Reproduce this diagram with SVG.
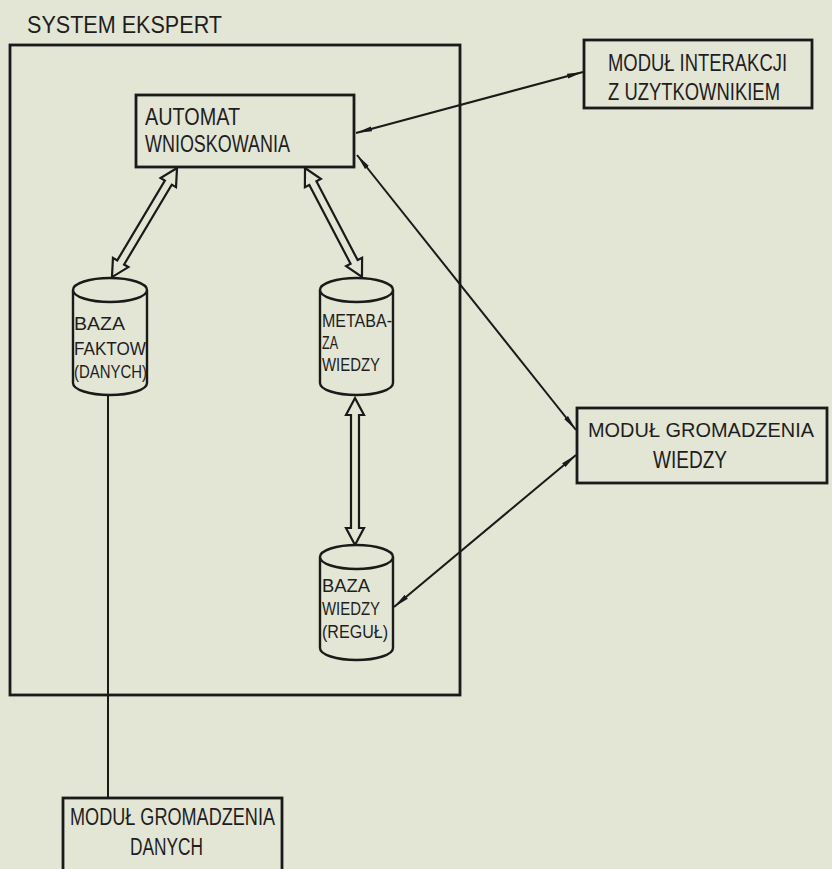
<svg xmlns="http://www.w3.org/2000/svg" width="832" height="869" viewBox="0 0 832 869">
<style>
.t{font-family:"Liberation Sans","DejaVu Sans",sans-serif;font-size:23px;fill:#1e1e1e}
.c{font-family:"Liberation Sans","DejaVu Sans",sans-serif;font-size:19px;fill:#1e1e1e}
.box{fill:none;stroke:#1a1a1a;stroke-width:2.8}
.cyl{fill:#e3e5d5;stroke:#1a1a1a;stroke-width:2.4}
.ln{fill:none;stroke:#1a1a1a;stroke-width:2}
.dbl{fill:#e3e5d5;stroke:#1a1a1a;stroke-width:2.2;stroke-linejoin:miter}
</style>
<defs>
<marker id="ah" markerUnits="userSpaceOnUse" markerWidth="16" markerHeight="8" viewBox="0 0 16 8" refX="16" refY="4" orient="auto-start-reverse">
<path d="M0,1.5 L16,4 L0,6.5 z" fill="#1a1a1a"/>
</marker>
</defs>
<rect x="0" y="0" width="832" height="869" fill="#e3e5d5"/>

<g id="system">
<rect class="box" x="10" y="45" width="450" height="650"/>
<text class="t" x="27" y="33" textLength="195" lengthAdjust="spacingAndGlyphs" style="font-size:24px">SYSTEM EKSPERT</text>
</g>

<g id="connectors">
<line class="ln" x1="108" y1="395" x2="108" y2="798"/>
<line class="ln" x1="356" y1="133" x2="583" y2="72" marker-start="url(#ah)" marker-end="url(#ah)"/>
<line class="ln" x1="357" y1="155" x2="576" y2="430" marker-start="url(#ah)" marker-end="url(#ah)"/>
<line class="ln" x1="576" y1="455" x2="394" y2="607" marker-start="url(#ah)" marker-end="url(#ah)"/>
<polygon class="dbl" transform="translate(177,168) rotate(120.8)" points="0,0 17,-9 17,-4 110,-4 110,-9 127,0 110,9 110,4 17,4 17,9"/>
<polygon class="dbl" transform="translate(305,168) rotate(62.4)" points="0,0 17,-9 17,-4 106,-4 106,-9 123,0 106,9 106,4 17,4 17,9"/>
<polygon class="dbl" transform="translate(355,398) rotate(90)" points="0,0 17,-9 17,-4 130,-4 130,-9 147,0 130,9 130,4 17,4 17,9"/>
</g>

<g id="automat">
<rect class="box" x="136" y="95" width="218" height="72"/>
<text class="t" x="145" y="125" textLength="95" lengthAdjust="spacingAndGlyphs">AUTOMAT</text>
<text class="t" x="145" y="152" textLength="145" lengthAdjust="spacingAndGlyphs">WNIOSKOWANIA</text>
</g>

<g id="modul-interakcji">
<rect class="box" x="584" y="40" width="228" height="68"/>
<text class="t" x="608" y="71" textLength="179" lengthAdjust="spacingAndGlyphs">MODUŁ INTERAKCJI</text>
<text class="t" x="608" y="100" textLength="172" lengthAdjust="spacingAndGlyphs">Z UZYTKOWNIKIEM</text>
</g>

<g id="modul-gromadzenia-wiedzy">
<rect class="box" x="577" y="408" width="250" height="75"/>
<text class="t" x="588" y="437" textLength="226" lengthAdjust="spacingAndGlyphs" style="font-size:21px">MODUŁ GROMADZENIA</text>
<text class="t" x="653" y="468" textLength="74" lengthAdjust="spacingAndGlyphs">WIEDZY</text>
</g>

<g id="modul-gromadzenia-danych">
<rect class="box" x="63" y="798" width="219" height="80"/>
<text class="t" x="70" y="825" textLength="205" lengthAdjust="spacingAndGlyphs">MODUŁ GROMADZENIA</text>
<text class="t" x="130" y="855" textLength="73" lengthAdjust="spacingAndGlyphs">DANYCH</text>
</g>

<g id="baza-faktow">
<path class="cyl" d="M73,290 V383 A37,12 0 0 0 147,383 V290"/>
<ellipse class="cyl" cx="110" cy="290" rx="37" ry="12"/>
<text class="c" x="74" y="330" textLength="51" lengthAdjust="spacingAndGlyphs">BAZA</text>
<text class="c" x="74" y="355" textLength="72" lengthAdjust="spacingAndGlyphs">FAKTOW</text>
<text class="c" x="74" y="378" textLength="73" lengthAdjust="spacingAndGlyphs">(DANYCH)</text>
</g>

<g id="metabaza-wiedzy">
<path class="cyl" d="M320,290 V383 A36.5,12 0 0 0 393,383 V290"/>
<ellipse class="cyl" cx="356.5" cy="290" rx="36.5" ry="12"/>
<text class="c" x="322" y="327" textLength="70" lengthAdjust="spacingAndGlyphs">METABA-</text>
<text class="c" x="322" y="349" textLength="16" lengthAdjust="spacingAndGlyphs">ZA</text>
<text class="c" x="322" y="371" textLength="58" lengthAdjust="spacingAndGlyphs">WIEDZY</text>
</g>

<g id="baza-wiedzy">
<path class="cyl" d="M320,557 V648 A36.5,12 0 0 0 393,648 V557"/>
<ellipse class="cyl" cx="356.5" cy="557" rx="36.5" ry="12"/>
<text class="c" x="322" y="592" textLength="48" lengthAdjust="spacingAndGlyphs">BAZA</text>
<text class="c" x="322" y="615" textLength="58" lengthAdjust="spacingAndGlyphs">WIEDZY</text>
<text class="c" x="322" y="638" textLength="66" lengthAdjust="spacingAndGlyphs">(REGUŁ)</text>
</g>
</svg>
